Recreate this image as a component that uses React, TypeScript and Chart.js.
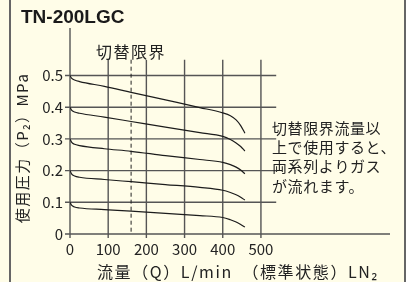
import React, { useEffect, useRef } from "react";
import { Chart, registerables } from "chart.js";

Chart.register(...registerables);

// Flow rate Q (L/min) sample points shared by all curves
const flowRate = [0, 4, 12, 25, 90, 160, 250, 340, 400, 420, 435, 447, 458];
// Outlet pressure P2 (MPa) curves, one per set pressure
const p05 = [0.5, 0.492, 0.486, 0.481, 0.466, 0.447, 0.423, 0.399, 0.382, 0.373, 0.36, 0.342, 0.318];
const p04 = [0.4, 0.391, 0.385, 0.381, 0.369, 0.355, 0.337, 0.32, 0.308, 0.298, 0.287, 0.276, 0.262];
const p03 = [0.3, 0.29, 0.283, 0.279, 0.269, 0.261, 0.247, 0.235, 0.226, 0.219, 0.211, 0.202, 0.19];
const p02 = [0.2, 0.19, 0.183, 0.179, 0.172, 0.165, 0.156, 0.147, 0.138, 0.131, 0.124, 0.116, 0.107];
const p01 = [0.1, 0.091, 0.085, 0.082, 0.077, 0.072, 0.065, 0.058, 0.052, 0.045, 0.038, 0.03, 0.022];
const seriesList = [p05, p04, p03, p02, p01];

const xTickValues = [0, 100, 200, 300, 400, 500];
const yTickValues = [0, 0.1, 0.2, 0.3, 0.4, 0.5];
const switchLimitFlow = 160;

const titleText = "TN-200LGC";
const switchLabel = "切替限界";
const noteLines = ["切替限界流量以", "上で使用すると、", "両系列よりガス", "が流れます。"];
const yTitle = "使用圧力（P₂）MPa";
const xTitle = "流量（Q）L/min　（標準状態）LN₂";

const BG = "#FFFDE8";
const INK = "#222";
const GRID = "#555";
const JP = "'Noto Sans CJK JP', 'Noto Sans', sans-serif";

const decoPlugin = {
  id: "deco",
  beforeDraw(chart: any) {
    const { ctx, width, height } = chart;
    ctx.save();
    ctx.fillStyle = BG;
    ctx.fillRect(0, 0, width, height);
    ctx.fillStyle = "#666";
    ctx.fillRect(9, 0, 2, height);
    ctx.fillRect(404, 0, 2, height);
    ctx.restore();
  },
  beforeDatasetsDraw(chart: any) {
    const { ctx, chartArea } = chart;
    const xs = chart.scales.x;
    const ys = chart.scales.y;
    const left = chartArea.left;
    const bottom = ys.getPixelForValue(0);
    const gridTop = ys.getPixelForValue(0.55);
    const gridRight = xs.getPixelForValue(540);
    ctx.save();
    ctx.strokeStyle = GRID;
    ctx.lineWidth = 1.4;
    ctx.beginPath();
    // horizontal grid + y ticks
    yTickValues.forEach((v) => {
      const y = ys.getPixelForValue(v);
      ctx.moveTo(left - 5, y);
      ctx.lineTo(v === 0 ? chartArea.right : gridRight, y);
    });
    // vertical grid + x ticks
    xTickValues.forEach((v) => {
      const x = xs.getPixelForValue(v);
      ctx.moveTo(x, v === 0 ? chartArea.top : gridTop);
      ctx.lineTo(x, bottom + 4);
    });
    ctx.stroke();
    // switch limit dashed line
    const xd = xs.getPixelForValue(switchLimitFlow);
    ctx.lineWidth = 1;
    ctx.strokeStyle = INK;
    ctx.setLineDash([4, 3]);
    ctx.beginPath();
    ctx.moveTo(xd, gridTop);
    ctx.lineTo(xd, bottom);
    ctx.stroke();
    ctx.setLineDash([]);

    // texts
    ctx.fillStyle = INK;
    ctx.textBaseline = "middle";
    ctx.textAlign = "center";
    ctx.font = `16px ${JP}`;
    (ctx as any).letterSpacing = "1.5px";
    ctx.fillText(switchLabel, xd, gridTop - 8);

    ctx.textAlign = "left";
    ctx.font = `15px ${JP}`;
    (ctx as any).letterSpacing = "0.6px";
    noteLines.forEach((t, i) => ctx.fillText(t, 272, 128 + i * 19.3));

    // x title
    ctx.font = `16px ${JP}`;
    (ctx as any).letterSpacing = "1.6px";
    ctx.fillText(xTitle, 97, 272);

    // y title rotated
    ctx.save();
    ctx.translate(22, 148);
    ctx.rotate(-Math.PI / 2);
    ctx.textAlign = "center";
    ctx.font = `15px ${JP}`;
    (ctx as any).letterSpacing = "1.5px";
    ctx.fillText(yTitle, 0, 0);
    ctx.restore();

    // main title
    (ctx as any).letterSpacing = "0px";
    ctx.textBaseline = "alphabetic";
    ctx.font = "bold 19px 'Liberation Sans', Arial, sans-serif";
    ctx.fillStyle = "#1a1a1a";
    ctx.fillText(titleText, 21, 23);
    ctx.restore();
  },
};

export default function App() {
  const ref = useRef<HTMLCanvasElement>(null);
  useEffect(() => {
    if (!ref.current) return;
    const chart = new Chart(ref.current, {
      type: "line",
      data: {
        datasets: seriesList.map((s) => ({
          data: flowRate.map((q, i) => ({ x: q, y: s[i] })),
          borderColor: "#1c1c1c",
          borderWidth: 1.2,
          pointRadius: 0,
          fill: false,
          cubicInterpolationMode: "monotone" as const,
        })),
      },
      options: {
        responsive: false,
        animation: false,
        layout: { padding: { left: 8, right: 16, top: 28, bottom: 0 } },
        plugins: { legend: { display: false }, tooltip: { enabled: false } },
        scales: {
          x: {
            type: "linear",
            min: 0,
            max: 838,
            grid: { display: false, drawTicks: false },
            border: { display: false },
            afterBuildTicks: (s: any) => {
              s.ticks = xTickValues.map((v) => ({ value: v }));
            },
            afterFit: (s: any) => {
              s.height = 48;
            },
            ticks: {
              autoSkip: false,
              maxRotation: 0,
              padding: 6,
              color: INK,
              font: { family: JP, size: 15 },
              callback: (v: any) => String(v),
            },
          },
          y: {
            type: "linear",
            min: 0,
            max: 0.65,
            grid: { display: false, drawTicks: false },
            border: { display: false },
            afterBuildTicks: (s: any) => {
              s.ticks = yTickValues.map((v) => ({ value: v }));
            },
            afterFit: (s: any) => {
              s.width = 62;
            },
            ticks: {
              autoSkip: false,
              padding: 7,
              color: INK,
              font: { family: JP, size: 15 },
              callback: (v: any) => (Number(v) === 0 ? "0" : Number(v).toFixed(1)),
            },
          },
        },
      },
      plugins: [decoPlugin],
    });
    return () => chart.destroy();
  }, []);
  return (
    <div style={{ position: "fixed", left: 0, top: 0, width: 406, height: 282, background: BG }}>
      <canvas ref={ref} width={406} height={282} style={{ display: "block" }} />
    </div>
  );
}
